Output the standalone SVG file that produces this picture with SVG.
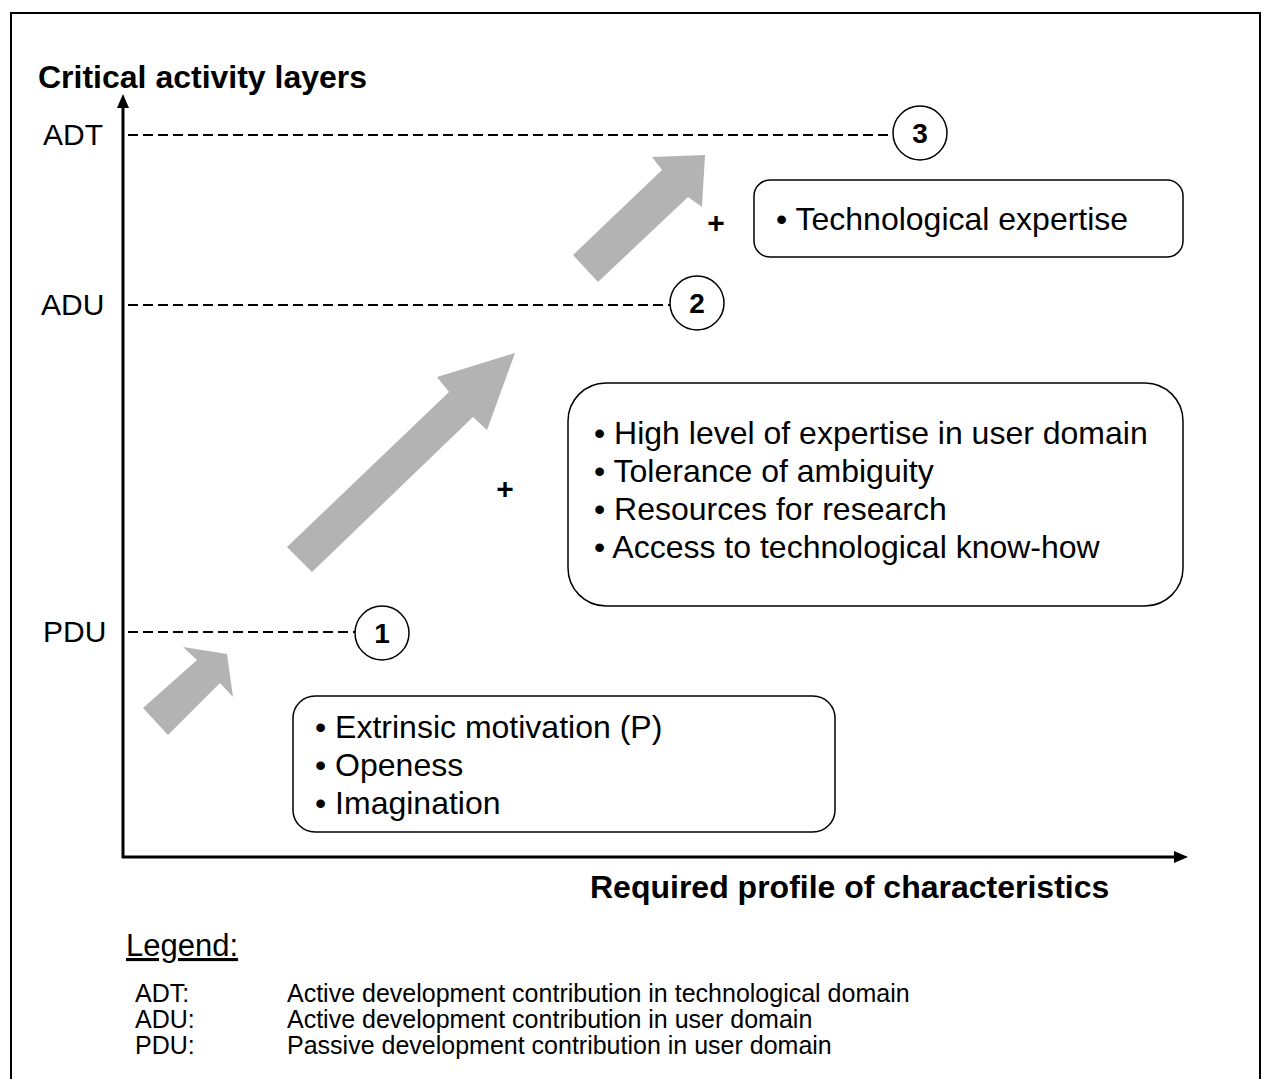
<svg xmlns="http://www.w3.org/2000/svg" width="1262" height="1079" viewBox="0 0 1262 1079">
<defs>
<marker id="ah" viewBox="0 0 14 12" refX="0" refY="6" markerWidth="14" markerHeight="12" markerUnits="userSpaceOnUse" orient="auto">
<path d="M0,0 L14,6 L0,12 Z" fill="#000"/>
</marker>
</defs>
<style>
text{font-family:"Liberation Sans",Arial,sans-serif;fill:#000}
.lbl{font-size:30px}
.bold{font-size:32px;font-weight:bold}
.box{fill:#fff;stroke:#000;stroke-width:1.5}
.item{font-size:32px}
.num{font-size:28px;font-weight:bold;text-anchor:middle}
.plus{font-size:30px;font-weight:bold;text-anchor:middle}
.dash{stroke:#000;stroke-width:2;stroke-dasharray:10 5;fill:none}
.circ{fill:#fff;stroke:#000;stroke-width:1.5}
.garrow{fill:#b3b3b3}
.leg{font-size:25px}
</style>
<rect x="11" y="13" width="1249" height="1090" fill="#fff" stroke="#000" stroke-width="2"/>

<g id="axes">
<line x1="123" y1="858" x2="123" y2="108" stroke="#000" stroke-width="3" marker-end="url(#ah)"/>
<line x1="122" y1="857" x2="1174" y2="857" stroke="#000" stroke-width="3" marker-end="url(#ah)"/>
<text class="bold" x="38" y="88">Critical activity layers</text>
<text class="bold" x="590" y="898">Required profile of characteristics</text>
</g>

<g id="connectors">
<line class="dash" x1="128" y1="135" x2="893" y2="135"/>
<line class="dash" x1="128" y1="305" x2="670" y2="305"/>
<line class="dash" x1="128" y1="632" x2="355" y2="632"/>
</g>

<g id="layer-labels">
<text class="lbl" x="43" y="145">ADT</text>
<text class="lbl" x="41" y="315">ADU</text>
<text class="lbl" x="43" y="642">PDU</text>
</g>

<g id="node-3">
<circle class="circ" cx="920" cy="133" r="27"/>
<text class="num" x="920" y="143">3</text>
</g>
<g id="node-2">
<circle class="circ" cx="697" cy="303" r="27"/>
<text class="num" x="697" y="313">2</text>
</g>
<g id="node-1">
<circle class="circ" cx="382" cy="633" r="27"/>
<text class="num" x="382" y="643">1</text>
</g>

<g id="arrow-1">
<polygon class="garrow" points="143,708 197,660 183,647 227,654 233,697 220,683 168,735"/>
</g>
<g id="arrow-2">
<polygon class="garrow" points="287,547 449,392 437,377 515,353 487,430 473,417 312,572"/>
</g>
<g id="arrow-3">
<polygon class="garrow" points="573,255 662,170 652,157 705,155 702,207 688,197 598,282"/>
</g>

<g id="plus-signs">
<text class="plus" x="716" y="233">+</text>
<text class="plus" x="505" y="499">+</text>
</g>

<g id="box-technological">
<rect class="box" x="754" y="180" width="429" height="77" rx="16"/>
<text class="item" x="776" y="230">• Technological expertise</text>
</g>

<g id="box-user-domain">
<rect class="box" x="568" y="383" width="615" height="223" rx="38"/>
<text class="item" x="594" y="444">• High level of expertise in user domain</text>
<text class="item" x="594" y="482">• Tolerance of ambiguity</text>
<text class="item" x="594" y="520">• Resources for research</text>
<text class="item" x="594" y="558">• Access to technological know-how</text>
</g>

<g id="box-passive">
<rect class="box" x="293" y="696" width="542" height="136" rx="22"/>
<text class="item" x="315" y="738">• Extrinsic motivation (P)</text>
<text class="item" x="315" y="776">• Openess</text>
<text class="item" x="315" y="814">• Imagination</text>
</g>

<g id="legend">
<text x="126" y="956" style="font-size:31px;text-decoration:underline">Legend:</text>
<text class="leg" x="135" y="1002">ADT:</text>
<text class="leg" x="287" y="1002">Active development contribution in technological domain</text>
<text class="leg" x="135" y="1028">ADU:</text>
<text class="leg" x="287" y="1028">Active development contribution in user domain</text>
<text class="leg" x="135" y="1054">PDU:</text>
<text class="leg" x="287" y="1054">Passive development contribution in user domain</text>
</g>
</svg>
